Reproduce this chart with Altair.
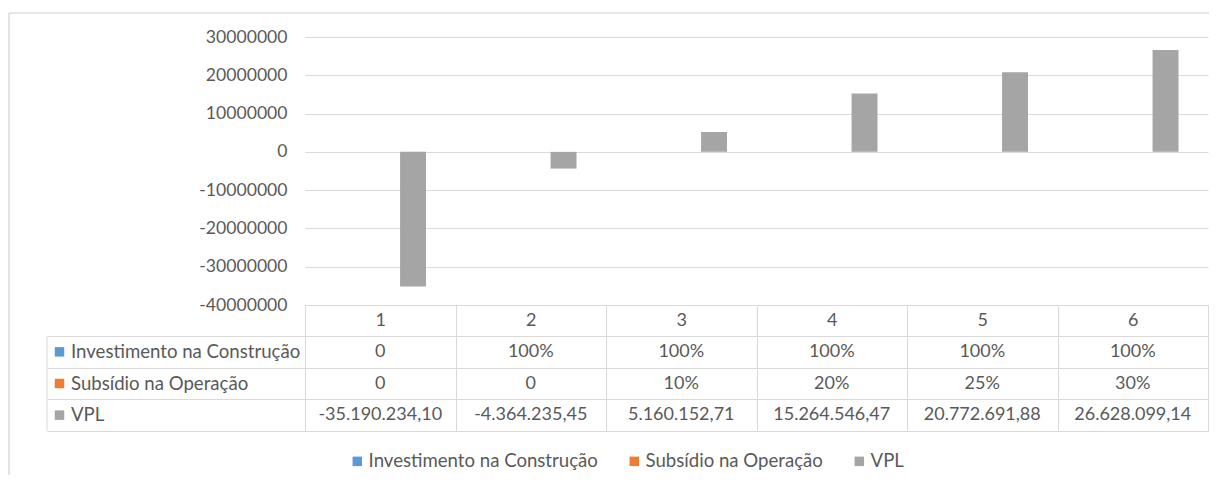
import altair as alt
import pandas as pd

categories = ["1", "2", "3", "4", "5", "6"]
series = ["Investimento na Construção", "Subsídio na Operação", "VPL"]
colors = ["#5b9bd5", "#ed7d31", "#a5a5a5"]
investimento = [0, 1.00, 1.00, 1.00, 1.00, 1.00]
subsidio = [0, 0, 0.10, 0.20, 0.25, 0.30]
vpl = [-35190234.10, -4364235.45, 5160152.71, 15264546.47, 20772691.88, 26628099.14]
y_ticks = [-40000000, -30000000, -20000000, -10000000, 0, 10000000, 20000000, 30000000]

TXT = "#595959"
GRID = "#d9d9d9"
FRAME = "#d0d0d0"
FONT = "Lato"
FS = 18
FS_TXT = 18.6


def pct(v):
    return "0" if v == 0 else f"{round(v * 100)}%"


def br(v):
    s = f"{v:,.2f}"
    return s.replace(",", "X").replace(".", ",").replace("X", ".")


rows = []
for i, c in enumerate(categories):
    for s, vals, fmt in [(series[0], investimento, pct), (series[1], subsidio, pct), (series[2], vpl, br)]:
        rows.append({"cat": c, "series": s, "value": vals[i], "label": fmt(vals[i])})
df = pd.DataFrame(rows)
lab_df = pd.DataFrame({"series": series, "cat": [categories[0]] * len(series)})
one = pd.DataFrame({"k": [0]})

x_scale = alt.Scale(domain=categories, paddingInner=0, paddingOuter=0)
color_scale = alt.Scale(domain=series, range=colors)

bars = alt.Chart(df).mark_bar().encode(
    x=alt.X("cat:N", scale=x_scale, axis=None),
    xOffset=alt.XOffset("series:N", scale=alt.Scale(domain=series, paddingInner=0,
                                                    paddingOuter=0, range=[43.2, 121])),
    y=alt.Y("value:Q", stack=None,
            scale=alt.Scale(domain=[-40000000, 30000000], nice=False),
            axis=alt.Axis(values=y_ticks, labelExpr="toString(datum.value)", title=None,
                          domain=False, ticks=False, grid=True, gridColor=GRID,
                          labelPadding=18, labelFont=FONT, labelFontSize=17.6,
                          labelColor=TXT)),
    color=alt.Color("series:N", scale=color_scale,
                    legend=alt.Legend(title=None, orient="none", direction="horizontal",
                                      legendX=43, legendY=415, symbolType="square",
                                      symbolSize=90, symbolStrokeWidth=0, labelFont=FONT,
                                      labelFontSize=FS_TXT, labelColor=TXT, labelOffset=2,
                                      columnPadding=27, padding=0, labelLimit=400)),
)

# light chart-area frame (top and left edges, as in the spreadsheet export)
frame_top = alt.Chart(one).mark_rule(color=FRAME, strokeWidth=1.2).encode(
    x=alt.value(-296), x2=alt.value(904), y=alt.value(-24))
frame_left = alt.Chart(one).mark_rule(color=FRAME, strokeWidth=1.2).encode(
    x=alt.value(-296), y=alt.value(-24), y2=alt.value(438))

top = alt.layer(bars, frame_top, frame_left).properties(
    width=903, height=268, view=alt.ViewBackground(stroke=None))

x_axis = alt.Axis(orient="top", title=None, tickBand="extent", tickSize=31, tickColor=GRID,
                  domain=False, grid=True, gridColor=GRID, labelPadding=-15.5,
                  labelBaseline="middle", labelFont=FONT, labelFontSize=FS,
                  labelColor=TXT, labelAngle=0)
y_scale_t = alt.Scale(domain=series, paddingInner=0, paddingOuter=0)
y_axis = alt.Axis(title=None, labels=False, tickBand="extent", tickSize=258, tickColor=GRID,
                  domain=False, grid=True, gridColor=GRID)

cells = alt.Chart(df).mark_text(font=FONT, fontSize=FS, color=TXT).encode(
    x=alt.X("cat:N", scale=x_scale, axis=x_axis),
    y=alt.Y("series:N", scale=y_scale_t, axis=y_axis),
    text="label:N",
)
row_labels = alt.Chart(lab_df).mark_text(align="left", xOffset=-234, font=FONT,
                                         fontSize=FS_TXT, color=TXT).encode(
    x=alt.X("cat:N", scale=x_scale, bandPosition=0, axis=x_axis),
    y=alt.Y("series:N", scale=y_scale_t, axis=y_axis),
    text="series:N",
)
row_keys = alt.Chart(lab_df).mark_square(size=90, opacity=1, xOffset=-245.5).encode(
    x=alt.X("cat:N", scale=x_scale, bandPosition=0, axis=x_axis),
    y=alt.Y("series:N", scale=y_scale_t, axis=y_axis),
    fill=alt.Fill("series:N", scale=color_scale, legend=None),
)
left_rule = alt.Chart(lab_df.head(1)).mark_rule(color=GRID, xOffset=-258).encode(
    x=alt.X("cat:N", scale=x_scale, bandPosition=0, axis=x_axis),
)
table = alt.layer(cells, row_labels, row_keys, left_rule).properties(width=903, height=95)

chart = alt.vconcat(top, table, spacing=31, bounds="flush").properties(
    padding={"left": 0, "top": 4, "right": 0, "bottom": 0}
).configure_view(stroke=GRID).configure(font=FONT)

chart.save("out.html", embed_options={"renderer": "svg", "actions": False})
